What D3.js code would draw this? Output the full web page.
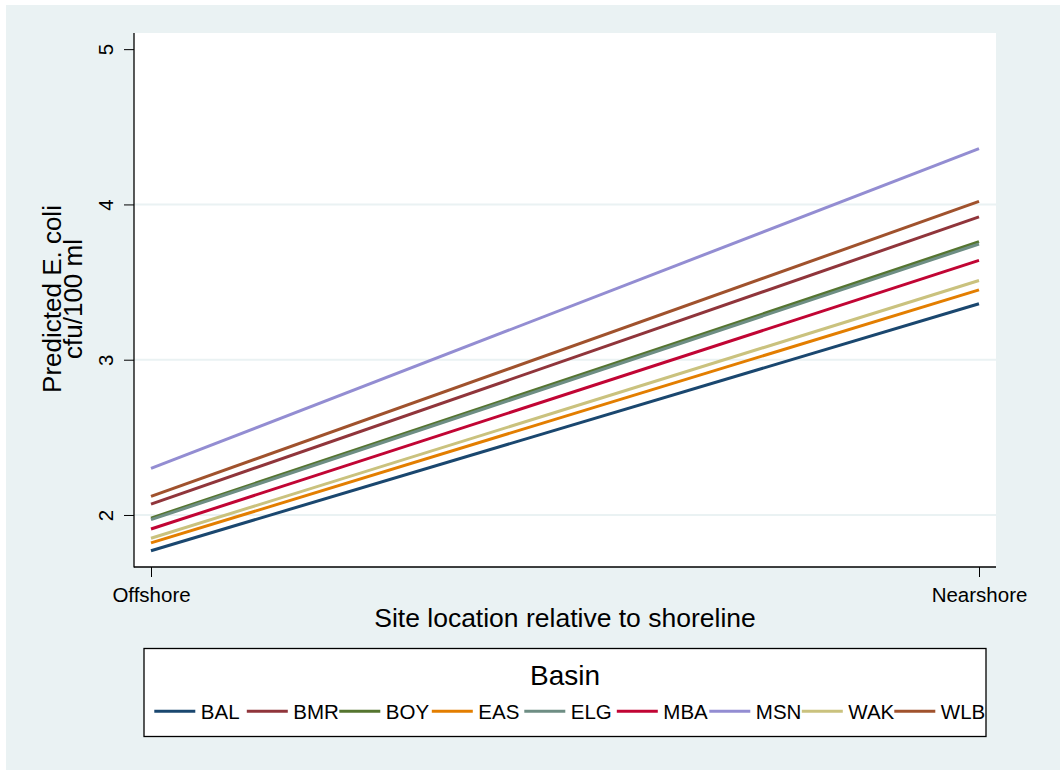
<!DOCTYPE html>
<html lang="en">
    <head>
        <meta charset="utf-8">
        <title>Predicted E. coli by basin</title>
        <script src="https://cdn.jsdelivr.net/npm/d3@7"></script>
        <style type="text/css">
            body { margin: 0; background: #fff; }
            text { font-family: "Liberation Sans", Arial, sans-serif; fill: #000; }
        </style>
    </head>
    <body>
        <div id="chart"></div>
        <script>
            // Data
            var basins = ["BAL", "BMR", "BOY", "EAS", "ELG", "MBA", "MSN", "WAK", "WLB"];
            var locations = ["Offshore", "Nearshore"];
            var offshore = [1.77, 2.07, 1.98, 1.82, 1.97, 1.91, 2.30, 1.85, 2.12];
            var nearshore = [3.36, 3.92, 3.76, 3.45, 3.745, 3.64, 4.36, 3.51, 4.02];
            var yTicks = [2, 3, 4, 5];
            var gridTicks = [2, 3, 4];
            var colors = ["#1a476f", "#90353b", "#55752f", "#e37e00", "#6e8e84",
                          "#c10534", "#938dd2", "#cac27e", "#a0522d"];

            var data = basins.map(function(b, i) {
                return { basin: b, values: [offshore[i], nearshore[i]] };
            });

            var W = 1060, H = 770;
            var plot = { left: 134, top: 33, right: 996, bottom: 567 };

            var svg = d3.select("#chart").append("svg")
                .attr("width", W)
                .attr("height", H);

            // fondo del grafico
            svg.append("rect")
                .attr("x", 6).attr("y", 5)
                .attr("width", W - 6).attr("height", H - 5)
                .style("fill", "#eaf2f3");

            svg.append("rect")
                .attr("x", plot.left).attr("y", plot.top)
                .attr("width", plot.right - plot.left)
                .attr("height", plot.bottom - plot.top)
                .style("fill", "#fff");

            // Escalas
            var x = d3.scalePoint()
                .domain(locations)
                .range([151, 979]);

            var y = d3.scaleLinear()
                .domain([1.665, 5.104])
                .range([plot.bottom, plot.top]);

            var color = d3.scaleOrdinal().domain(basins).range(colors);

            // grid
            svg.selectAll(".grid")
                .data(gridTicks)
                .enter()
                .append("line")
                .attr("class", "grid")
                .attr("x1", plot.left).attr("x2", plot.right)
                .attr("y1", function(d) { return y(d); })
                .attr("y2", function(d) { return y(d); })
                .style("stroke", "#eaf2f3")
                .style("stroke-width", 2);

            // Eje y
            var yAxis = d3.axisLeft(y)
                .tickValues(yTicks)
                .tickSize(10)
                .tickPadding(0)
                .tickFormat(d3.format("d"));

            var gy = svg.append("g")
                .attr("transform", "translate(" + plot.left + ",0)")
                .call(yAxis);
            gy.select(".domain").remove();
            gy.selectAll(".tick line").style("stroke", "#000");
            gy.selectAll(".tick text")
                .attr("x", 0).attr("y", 0).attr("dy", 0)
                .attr("transform", "translate(-21,0) rotate(-90)")
                .style("text-anchor", "middle")
                .style("font-size", "20.5px");

            // Eje x
            var xAxis = d3.axisBottom(x)
                .tickSize(10)
                .tickPadding(0);

            var gx = svg.append("g")
                .attr("transform", "translate(0," + plot.bottom + ")")
                .call(xAxis);
            gx.select(".domain").remove();
            gx.selectAll(".tick line").style("stroke", "#000");
            gx.selectAll(".tick text")
                .attr("y", 34.5).attr("dy", 0)
                .style("font-size", "20.5px");

            // axis lines
            svg.append("line")
                .attr("x1", plot.left).attr("x2", plot.left)
                .attr("y1", plot.top).attr("y2", plot.bottom + 0.5)
                .style("stroke", "#000").style("stroke-width", 1.3);
            svg.append("line")
                .attr("x1", plot.left).attr("x2", plot.right)
                .attr("y1", plot.bottom).attr("y2", plot.bottom)
                .style("stroke", "#000").style("stroke-width", 1.3);

            // Titulos
            svg.append("text")
                .attr("x", 565).attr("y", 627)
                .style("text-anchor", "middle")
                .style("font-size", "26.5px")
                .text("Site location relative to shoreline");

            var ytitle = svg.append("text")
                .attr("transform", "translate(61,299) rotate(-90)")
                .style("text-anchor", "middle")
                .style("font-size", "26px");
            ytitle.append("tspan").attr("x", 0).attr("y", 0).text("Predicted E. coli");
            ytitle.append("tspan").attr("x", 0).attr("y", 21).text("cfu/100 ml");

            // Lineas
            var line = d3.line()
                .x(function(d, i) { return x(locations[i]); })
                .y(function(d) { return y(d); });

            svg.selectAll(".serie")
                .data(data)
                .enter()
                .append("path")
                .attr("class", "serie")
                .attr("d", function(d) { return line(d.values); })
                .style("fill", "none")
                .style("stroke", function(d) { return color(d.basin); })
                .style("stroke-width", 3);

            // Leyenda
            svg.append("rect")
                .attr("x", 144).attr("y", 648.5)
                .attr("width", 842).attr("height", 88)
                .style("fill", "#fff")
                .style("stroke", "#000")
                .style("stroke-width", 1.3);

            svg.append("text")
                .attr("x", 565).attr("y", 685)
                .style("text-anchor", "middle")
                .style("font-size", "28px")
                .text("Basin");

            var leyenda = svg.selectAll(".leyenda")
                .data(basins)
                .enter()
                .append("g")
                .attr("class", "leyenda")
                .attr("transform", function(d, i) {
                    return "translate(" + (154.3 + i * 92.5) + ",711.3)";
                });

            leyenda.append("line")
                .attr("x1", 0).attr("x2", 41)
                .style("stroke", color)
                .style("stroke-width", 3);

            leyenda.append("text")
                .attr("x", 46.5)
                .attr("y", 8)
                .style("font-size", "20.5px")
                .text(function(d) { return d; });
        </script>
    </body>
</html>
